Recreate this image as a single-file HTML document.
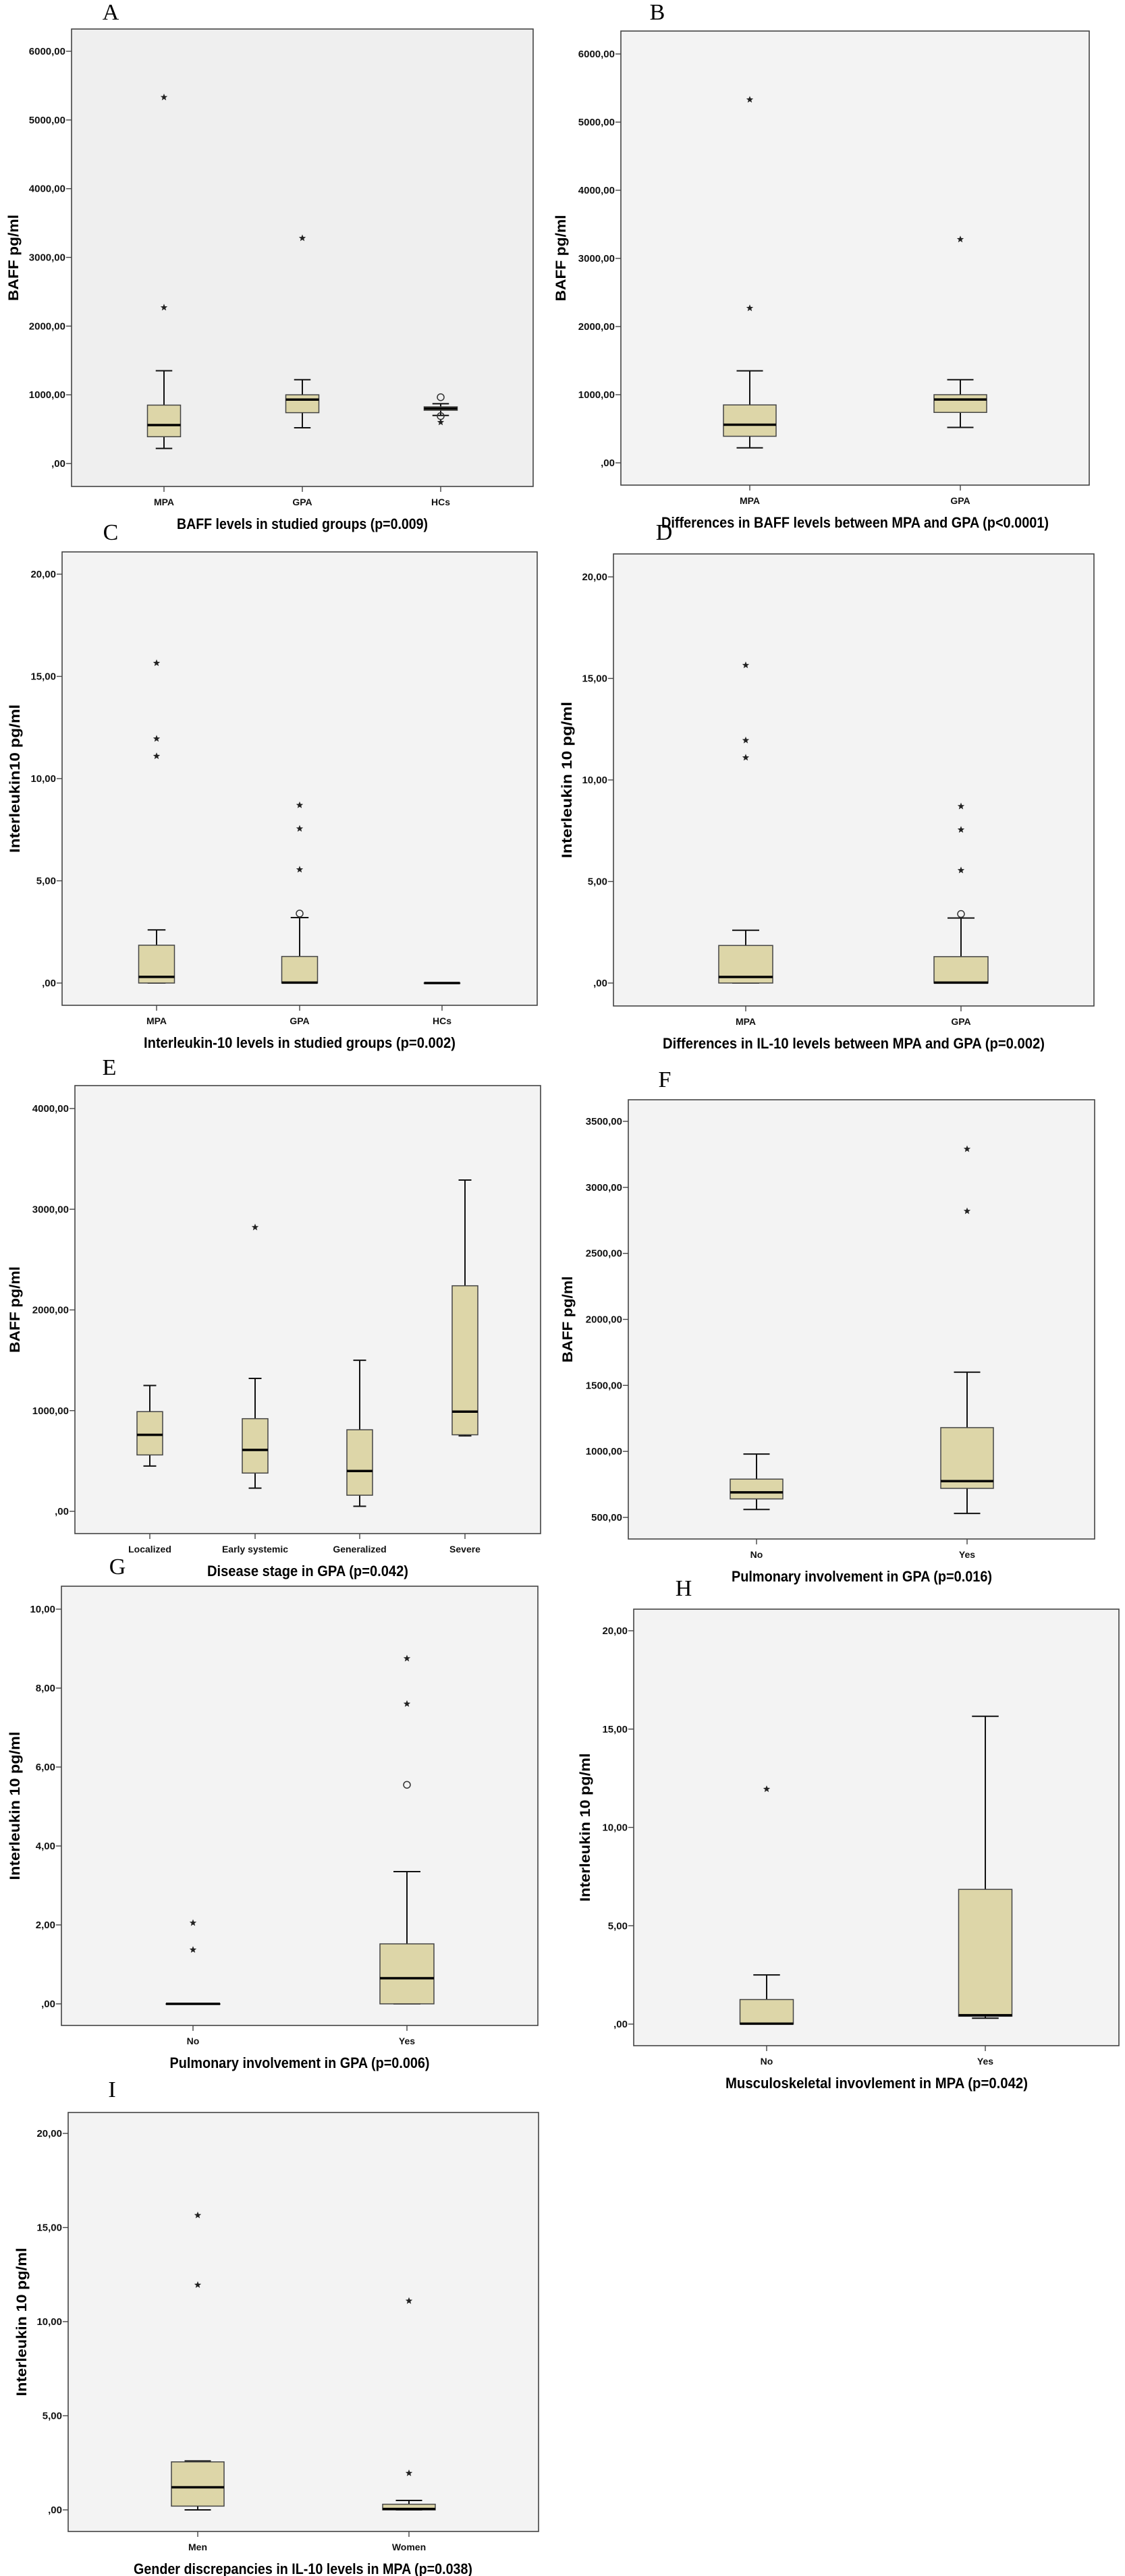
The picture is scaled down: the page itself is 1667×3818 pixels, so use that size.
<!DOCTYPE html>
<html><head><meta charset="utf-8"><style>
html,body{margin:0;padding:0;background:#fff;}
svg{display:block;}
text{font-family:"Liberation Sans",sans-serif;}
</style></head><body>
<svg id="fig" xmlns="http://www.w3.org/2000/svg" width="1667" height="3818" viewBox="0 0 1667 3818"></svg>
<script>
// ---- Panel A: BAFF in studied groups
const aCats=["MPA","GPA","HCs"];
const aLow=[220,520,700]; const aQ1=[390,740,775]; const aMed=[560,930,800]; const aQ3=[850,1000,825]; const aHigh=[1350,1220,870];
const aStars=[[0,5330],[0,2270],[1,3280],[2,600]]; const aCircles=[[2,965],[2,690]];
const aTicks=[0,1000,2000,3000,4000,5000,6000];
// ---- Panel B
const bCats=["MPA","GPA"];
const bLow=[220,520]; const bQ1=[390,740]; const bMed=[560,930]; const bQ3=[850,1000]; const bHigh=[1350,1220];
const bStars=[[0,5330],[0,2270],[1,3280]]; const bCircles=[];
const bTicks=[0,1000,2000,3000,4000,5000,6000];
// ---- Panel C
const cCats=["MPA","GPA","HCs"];
const cLow=[0,0,0]; const cQ1=[0,0,0]; const cMed=[0.3,0.02,0]; const cQ3=[1.85,1.3,0]; const cHigh=[2.6,3.2,0];
const cStars=[[0,15.65],[0,11.95],[0,11.1],[1,8.7],[1,7.55],[1,5.55]]; const cCircles=[[1,3.4]];
const cTicks=[0,5,10,15,20];
// ---- Panel D
const dCats=["MPA","GPA"];
const dLow=[0,0]; const dQ1=[0,0]; const dMed=[0.3,0.02]; const dQ3=[1.85,1.3]; const dHigh=[2.6,3.2];
const dStars=[[0,15.65],[0,11.95],[0,11.1],[1,8.7],[1,7.55],[1,5.55]]; const dCircles=[[1,3.4]];
const dTicks=[0,5,10,15,20];
// ---- Panel E
const eCats=["Localized","Early systemic","Generalized","Severe"];
const eLow=[450,230,50,750]; const eQ1=[560,380,160,760]; const eMed=[760,610,400,990]; const eQ3=[990,920,810,2240]; const eHigh=[1250,1320,1500,3290];
const eStars=[[1,2820]]; const eCircles=[];
const eTicks=[0,1000,2000,3000,4000];
// ---- Panel F
const fCats=["No","Yes"];
const fLow=[560,530]; const fQ1=[640,720]; const fMed=[690,775]; const fQ3=[790,1180]; const fHigh=[980,1600];
const fStars=[[1,3290],[1,2820]]; const fCircles=[];
const fTicks=[500,1000,1500,2000,2500,3000,3500];
// ---- Panel G
const gCats=["No","Yes"];
const gLow=[0,0]; const gQ1=[0,0]; const gMed=[0,0.65]; const gQ3=[0,1.52]; const gHigh=[0,3.35];
const gStars=[[0,2.05],[0,1.37],[1,8.75],[1,7.6]]; const gCircles=[[1,5.55]];
const gTicks=[0,2,4,6,8,10];
// ---- Panel H
const hCats=["No","Yes"];
const hLow=[0,0.3]; const hQ1=[0,0.4]; const hMed=[0.02,0.45]; const hQ3=[1.25,6.85]; const hHigh=[2.5,15.65];
const hStars=[[0,11.95]]; const hCircles=[];
const hTicks=[0,5,10,15,20];
// ---- Panel I
const iCats=["Men","Women"];
const iLow=[0,0]; const iQ1=[0.2,0]; const iMed=[1.2,0.05]; const iQ3=[2.55,0.3]; const iHigh=[2.6,0.5];
const iStars=[[0,15.65],[0,11.95],[1,11.1],[1,1.95]]; const iCircles=[];
const iTicks=[0,5,10,15,20];

const NS="http://www.w3.org/2000/svg";
const svg=document.getElementById('fig');
function mk(tag,attrs,parent,txt){const e=document.createElementNS(NS,tag);for(const k in attrs)e.setAttribute(k,attrs[k]);if(txt!==undefined)e.textContent=txt;(parent||svg).appendChild(e);return e;}
function fmt(v){return v===0?",00":v+",00";}

const panels=[
 {id:"a",letter:"A",lx:164,ly:29,L:106,T:43,R:790,B:721,v0:0,p0:687,v1:6000,p1:76,bw:49,cats:aCats,xs:[243,448,653],lo:aLow,q1:aQ1,md:aMed,q3:aQ3,hi:aHigh,st:aStars,ci:aCircles,ticks:aTicks,yt:"BAFF pg/ml",ytx:19,ytl:128,xt:"BAFF levels in studied groups (p=0.009)",xtx:448,xtl:372},
 {id:"b",letter:"B",lx:974,ly:29,L:920,T:46,R:1614,B:719,v0:0,p0:686,v1:6000,p1:80,bw:78,cats:bCats,xs:[1111,1423],lo:bLow,q1:bQ1,md:bMed,q3:bQ3,hi:bHigh,st:bStars,ci:bCircles,ticks:bTicks,yt:"BAFF pg/ml",ytx:830,ytl:128,xt:"Differences in BAFF levels between MPA and GPA (p<0.0001)",xtx:1267,xtl:574},
 {id:"c",letter:"C",lx:164,ly:800,L:92,T:818,R:796,B:1490,v0:0,p0:1457,v1:20,p1:851,bw:53,cats:cCats,xs:[232,444,655],lo:cLow,q1:cQ1,md:cMed,q3:cQ3,hi:cHigh,st:cStars,ci:cCircles,ticks:cTicks,yt:"Interleukin10 pg/ml",ytx:21,ytl:220,xt:"Interleukin-10 levels in studied groups (p=0.002)",xtx:444,xtl:462},
 {id:"d",letter:"D",lx:984,ly:800,L:909,T:821,R:1621,B:1491,v0:0,p0:1457,v1:20,p1:855,bw:80,cats:dCats,xs:[1105,1424],lo:dLow,q1:dQ1,md:dMed,q3:dQ3,hi:dHigh,st:dStars,ci:dCircles,ticks:dTicks,yt:"Interleukin 10 pg/ml",ytx:839,ytl:232,xt:"Differences in IL-10 levels between MPA and GPA (p=0.002)",xtx:1265,xtl:566},
 {id:"e",letter:"E",lx:162,ly:1593,L:111,T:1609,R:801,B:2273,v0:0,p0:2240,v1:4000,p1:1643,bw:38,cats:eCats,xs:[222,378,533,689],lo:eLow,q1:eQ1,md:eMed,q3:eQ3,hi:eHigh,st:eStars,ci:eCircles,ticks:eTicks,yt:"BAFF pg/ml",ytx:21,ytl:128,xt:"Disease stage in GPA (p=0.042)",xtx:456,xtl:298},
 {id:"f",letter:"F",lx:985,ly:1611,L:931,T:1630,R:1622,B:2281,v0:500,p0:2249,v1:3500,p1:1662,bw:78,cats:fCats,xs:[1121,1433],lo:fLow,q1:fQ1,md:fMed,q3:fQ3,hi:fHigh,st:fStars,ci:fCircles,ticks:fTicks,yt:"BAFF pg/ml",ytx:840,ytl:128,xt:"Pulmonary involvement in GPA (p=0.016)",xtx:1277,xtl:386},
 {id:"g",letter:"G",lx:174,ly:2333,L:91,T:2351,R:797,B:3002,v0:0,p0:2970,v1:10,p1:2385,bw:80,cats:gCats,xs:[286,603],lo:gLow,q1:gQ1,md:gMed,q3:gQ3,hi:gHigh,st:gStars,ci:gCircles,ticks:gTicks,yt:"Interleukin 10 pg/ml",ytx:21,ytl:220,xt:"Pulmonary involvement in GPA (p=0.006)",xtx:444,xtl:385},
 {id:"h",letter:"H",lx:1013,ly:2365,L:939,T:2385,R:1658,B:3032,v0:0,p0:3000,v1:20,p1:2417,bw:79,cats:hCats,xs:[1136,1460],lo:hLow,q1:hQ1,md:hMed,q3:hQ3,hi:hHigh,st:hStars,ci:hCircles,ticks:hTicks,yt:"Interleukin 10 pg/ml",ytx:866,ytl:220,xt:"Musculoskeletal invovlement in MPA (p=0.042)",xtx:1299,xtl:448},
 {id:"i",letter:"I",lx:166,ly:3108,L:101,T:3131,R:798,B:3752,v0:0,p0:3720,v1:20,p1:3162,bw:78,cats:iCats,xs:[293,606],lo:iLow,q1:iQ1,md:iMed,q3:iQ3,hi:iHigh,st:iStars,ci:iCircles,ticks:iTicks,yt:"Interleukin 10 pg/ml",ytx:31,ytl:220,xt:"Gender discrepancies in IL-10 levels in MPA (p=0.038)",xtx:449,xtl:502}
];

function starPath(cx,cy,r){let d="";for(let k=0;k<10;k++){const a=-Math.PI/2+k*Math.PI/5;const rr=k%2?r*0.42:r;d+=(k?"L":"M")+(cx+rr*Math.cos(a)).toFixed(1)+","+(cy+rr*Math.sin(a)).toFixed(1);}return d+"Z";}

panels.forEach(p=>{
  const y=v=>p.p0+(v-p.v0)*(p.p1-p.p0)/(p.v1-p.v0);
  const g=mk('g',{});
  
  
  const lt=mk('text',{x:p.lx,y:p.ly,'text-anchor':'middle','font-size':34,style:'font-family:"Liberation Serif",serif'},g,p.letter);
  
  
  const fr=mk('rect',{x:p.L,y:p.T,width:p.R-p.L,height:p.B-p.T,fill:p.id==='a'?'#efefef':'#f3f3f3',stroke:'#444','stroke-width':1.6},g);
  
  
  p.ticks.forEach(t=>{
    const ty=y(t);
    const tl=mk('line',{x1:p.L-8,x2:p.L,y1:ty,y2:ty,stroke:'#444','stroke-width':1.4},g);
    
    
    const tx=mk('text',{x:p.L-9,y:ty+5,'text-anchor':'end','font-size':15,'font-weight':'bold',fill:'#111'},g,fmt(t));
    
    
  });
  const ytl=mk('text',{x:0,y:0,'text-anchor':'middle','font-size':21,'font-weight':'bold',textLength:p.ytl,lengthAdjust:'spacingAndGlyphs',transform:`translate(${p.ytx+8},${(p.T+p.B)/2}) rotate(-90)`},g,p.yt);
  
  
  const xtl=mk('text',{x:p.xtx,y:p.B+63,'text-anchor':'middle','font-size':22,'font-weight':'bold',textLength:p.xtl,lengthAdjust:'spacingAndGlyphs'},g,p.xt);
  
  
  p.cats.forEach((c,i)=>{
    const cx=p.xs[i];
    const tk=mk('line',{x1:cx,x2:cx,y1:p.B,y2:p.B+8,stroke:'#444','stroke-width':1.4},g);
    
    
    const cl=mk('text',{x:cx,y:p.B+28,'text-anchor':'middle','font-size':14,'font-weight':'bold',fill:'#111'},g,c);
    
    
    const hw=p.bw/2, cw=p.bw/4;
    const wh=mk('path',{d:`M${cx},${y(p.q3[i])}V${y(p.hi[i])}M${cx-cw},${y(p.hi[i])}H${cx+cw}M${cx},${y(p.q1[i])}V${y(p.lo[i])}M${cx-cw},${y(p.lo[i])}H${cx+cw}`,stroke:'#111','stroke-width':2,fill:'none'},g);
    
    
    const bx=mk('rect',{x:cx-hw,y:y(p.q3[i]),width:p.bw,height:Math.max(0.5,y(p.q1[i])-y(p.q3[i])),fill:'#ddd6a8',stroke:'#444','stroke-width':1.5},g);
    
    
    const md=mk('line',{x1:cx-hw,x2:cx+hw,y1:y(p.md[i]),y2:y(p.md[i]),stroke:'#000','stroke-width':3.5},g);
    
    
  });
  p.st.forEach(s=>{
    const e=mk('path',{d:starPath(p.xs[s[0]],y(s[1]),5.5),fill:'#222'},g);
    
    
  });
  p.ci.forEach(s=>{
    const e=mk('circle',{cx:p.xs[s[0]],cy:y(s[1]),r:5,fill:'none',stroke:'#333','stroke-width':1.5},g);
    
    
  });
});
</script>
</body></html>
